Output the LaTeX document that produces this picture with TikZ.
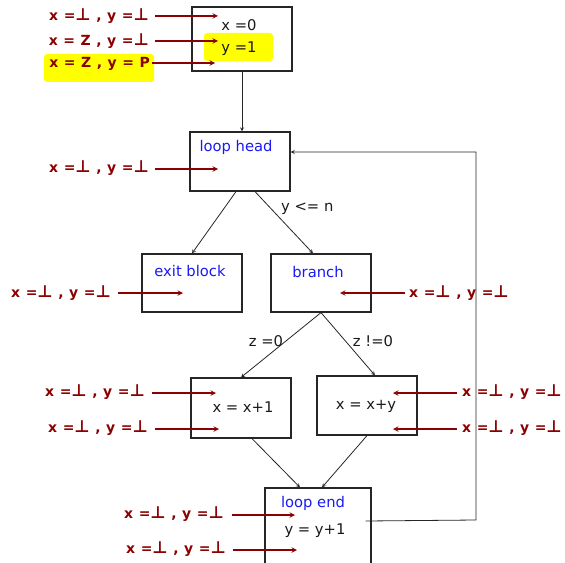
\documentclass[tikz,border=0pt]{standalone}
\usepackage{graphicx}
\usepackage{fontspec}
\setmainfont{DejaVu Sans}
\usetikzlibrary{arrows}
\definecolor{lbl}{HTML}{8B0000}
\definecolor{hdr}{RGB}{25,25,245}
\definecolor{hil}{RGB}{255,255,0}
\newcommand{\undef}{\scalebox{1.2}{⊥}}

\tikzset{
  block/.style={draw=black!85, line width=1.2bp, inner sep=0pt},
  stmt/.style={font=\fontsize{14.8}{17}\selectfont, text=black!90, inner sep=0pt},
  head/.style={font=\fontsize{14.8}{17}\selectfont, text=hdr, inner sep=0pt},
  fact/.style={font=\fontsize{14}{16}\selectfont\bfseries\addfontfeature{LetterSpace=5}, text=lbl, inner sep=0pt},
  feed/.style={->, >=stealth, draw=lbl, line width=1.4bp},
  flow/.style={->, >=stealth, draw=black!85, line width=0.8bp}
}

\begin{document}
\begin{tikzpicture}[x=1bp,y=-1bp]
  \useasboundingbox (0,0) rectangle (565,563);

  % the blocks
  \node[block, minimum width=100bp, minimum height=64bp] (entry) at (242,39) {};
  \node[block, minimum width=100bp, minimum height=59bp] (lhead) at (240,161.5) {};
  \node[block, minimum width=100bp, minimum height=58bp] (exitb) at (192,283) {};
  \node[block, minimum width=100bp, minimum height=58bp] (branch) at (321,283) {};
  \node[block, minimum width=100bp, minimum height=60bp] (incx) at (241,408) {};
  \node[block, minimum width=100bp, minimum height=59bp] (addy) at (367,405.5) {};
  \node[block, minimum width=106bp, minimum height=76bp] (lend) at (318,526) {};

  % texts inside the blocks
  \path[fill=hil, rounded corners=3bp] (204,33) rectangle (273,61);
  \node[stmt] (x0) at (239,25) {x =0};
  \node[stmt] (y1) at (239,49) {y =1};
  \node[head] (hhead) at (236,147) {loop head};
  \node[head] (hexit) at (190,271) {exit block};
  \node[head] (hbranch) at (318,272) {branch};
  \node[stmt] (sinc) at (243,407) {x = x+1};
  \node[stmt] (sadd) at (366,406) {x = x+y};
  \node[head] (hend) at (313,503) {loop end};
  \node[stmt] (sy) at (315,531) {y = y+1};

  % control flow
  \draw[flow] (entry.south) -- (entry.south |- lhead.north);
  \draw[flow] ([xshift=-4bp]lhead.south) -- (exitb.north);
  \draw[flow] ([xshift=15bp]lhead.south) -- ([xshift=-8bp]branch.north);
  \node[stmt, anchor=west] (cond) at (281,209) {y <= n};
  \draw[flow] (branch.south) -- (incx.north);
  \draw[flow] (branch.south) -- ([xshift=8bp]addy.north);
  \node[stmt] (zeq) at (266,341) {z =0};
  \node[stmt] (zne) at (373,341) {z !=0};
  \draw[flow] ([xshift=11bp]incx.south) -- ([xshift=-18bp]lend.north);
  \draw[flow] (addy.south) -- ([xshift=4bp]lend.north);
  \coordinate (back) at ([xshift=-6bp,yshift=5bp]lend.east);
  \coordinate (rb) at (476,520);
  \coordinate (rt) at (476,152);
  \draw[flow] (back) -- (rb) -- (rt) -- (rt -| lhead.east);

  % facts
  \path[fill=hil, rounded corners=3bp] (44,54) rectangle (154,82);
  \node[fact, anchor=east] (f1) at (149,16) {x =\undef\ , y =\undef};
  \node[fact, anchor=east] (f2) at (149,41) {x = Z , y =\undef};
  \node[fact, anchor=east] (f3) at (150,64) {x = Z , y = P};
  \node[fact, anchor=east] (f4) at (149,168) {x =\undef\ , y =\undef};
  \node[fact, anchor=east] (f5) at (111,293) {x =\undef\ , y =\undef};
  \node[fact, anchor=west] (f6) at (409,293) {x =\undef\ , y =\undef};
  \node[fact, anchor=east] (f7) at (145,392) {x =\undef\ , y =\undef};
  \node[fact, anchor=east] (f8) at (148,428) {x =\undef\ , y =\undef};
  \node[fact, anchor=west] (f9) at (462,392) {x =\undef\ , y =\undef};
  \node[fact, anchor=west] (f10) at (462,428) {x =\undef\ , y =\undef};
  \node[fact, anchor=east] (f11) at (224,514) {x =\undef\ , y =\undef};
  \node[fact, anchor=east] (f12) at (226,549) {x =\undef\ , y =\undef};

  \coordinate (t1) at (218,16);
  \coordinate (t2) at (218,41);
  \coordinate (t3) at (215,63);
  \coordinate (t4) at (218,169);
  \coordinate (t5) at (183,293);
  \coordinate (t6) at (340,293);
  \coordinate (t7) at (216,393);
  \coordinate (t8) at (219,429);
  \coordinate (t9) at (393,393);
  \coordinate (t10) at (393,429);
  \coordinate (t11) at (295,515);
  \coordinate (t12) at (297,550);

  \draw[feed] ([xshift=6bp]f1.east |- t1) -- (t1);
  \draw[feed] ([xshift=6bp]f2.east |- t2) -- (t2);
  \draw[feed] ([xshift=2bp]f3.east |- t3) -- (t3);
  \draw[feed] ([xshift=6bp]f4.east |- t4) -- (t4);
  \draw[feed] ([xshift=7bp]f5.east |- t5) -- (t5);
  \draw[feed] ([xshift=-4bp]f6.west |- t6) -- (t6);
  \draw[feed] ([xshift=7bp]f7.east |- t7) -- (t7);
  \draw[feed] ([xshift=7bp]f8.east |- t8) -- (t8);
  \draw[feed] ([xshift=-5bp]f9.west |- t9) -- (t9);
  \draw[feed] ([xshift=-5bp]f10.west |- t10) -- (t10);
  \draw[feed] ([xshift=8bp]f11.east |- t11) -- (t11);
  \draw[feed] ([xshift=7bp]f12.east |- t12) -- (t12);
\end{tikzpicture}
\end{document}
